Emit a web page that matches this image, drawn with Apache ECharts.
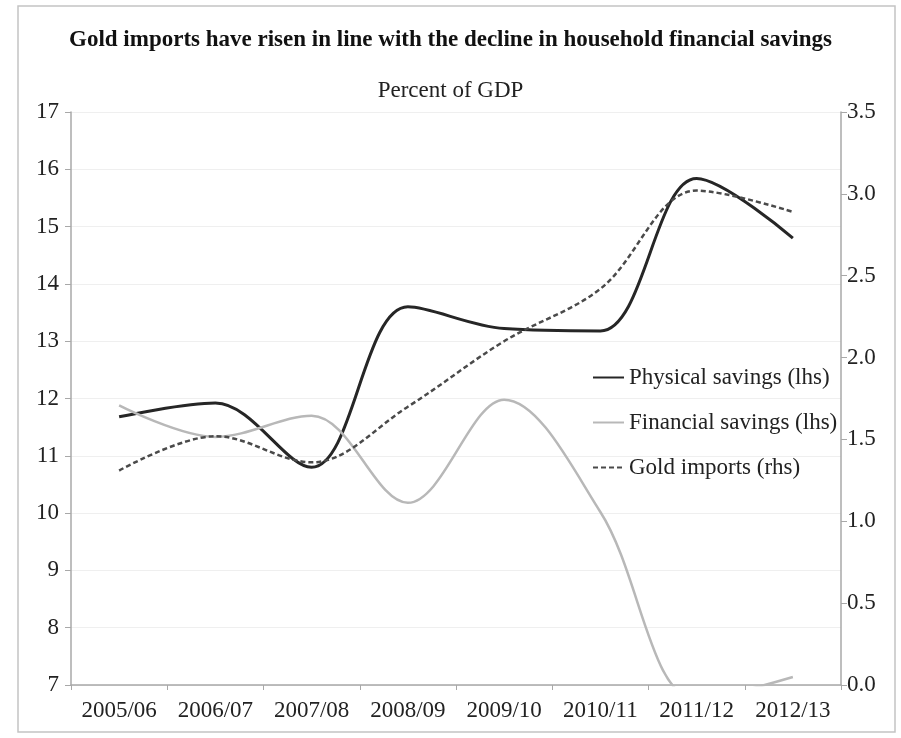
<!DOCTYPE html>
<html>
<head>
<meta charset="utf-8">
<script src="https://cdn.jsdelivr.net/npm/echarts@6/dist/echarts.min.js"></script>
<style>
html,body{margin:0;padding:0;background:#fff;}
#chart{width:901px;height:738px;}
</style>
</head>
<body>
<div id="chart"></div>
<script>
var categories = ['2005/06','2006/07','2007/08','2008/09','2009/10','2010/11','2011/12','2012/13'];
var physicalSavings = [11.68, 11.92, 10.80, 13.60, 13.22, 13.18, 15.84, 14.80];
var financialSavings = [11.88, 11.33, 11.70, 10.18, 11.98, 10.02, 6.75, 7.14];
var goldImports = [1.31, 1.52, 1.36, 1.70, 2.10, 2.42, 3.02, 2.89];
var leftTicks = {min: 7, max: 17, interval: 1};
var rightTicks = {min: 0, max: 3.5, interval: 0.5};

var FONT = '"Liberation Serif", "Times New Roman", serif';
var chart = echarts.init(document.getElementById('chart'), null, {renderer: 'canvas'});
chart.setOption({
  backgroundColor: '#ffffff',
  animation: false,
  textStyle: {fontFamily: FONT},
  graphic: [{
    type: 'rect',
    shape: {x: 18, y: 6, width: 877, height: 726},
    style: {fill: 'none', stroke: '#c4c4c4', lineWidth: 1.5},
    silent: true
  }],
  title: [{
    text: 'Gold imports have risen in line with the decline in household financial savings',
    left: 'center', top: 24,
    textStyle: {fontFamily: FONT, fontSize: 23, fontWeight: 'bold', color: '#111'}
  }, {
    text: 'Percent of GDP',
    left: 'center', top: 74,
    textStyle: {fontFamily: FONT, fontSize: 23, fontWeight: 'normal', color: '#222'}
  }],
  legend: {
    orient: 'vertical',
    left: 592, top: 366, padding: 0,
    itemWidth: 31, itemHeight: 14, itemGap: 22,
    itemStyle: {opacity: 0},
    textStyle: {fontFamily: FONT, fontSize: 23, color: '#222'},
    data: ['Physical savings (lhs)', 'Financial savings (lhs)', 'Gold imports (rhs)']
  },
  grid: {left: 71, right: 60, top: 112, bottom: 53, containLabel: false},
  xAxis: {
    type: 'category',
    data: categories,
    boundaryGap: true,
    axisLine: {lineStyle: {color: '#a8a8a8', width: 1.5}},
    axisTick: {show: true, length: 5, lineStyle: {color: '#a8a8a8'}},
    axisLabel: {fontFamily: FONT, fontSize: 23, color: '#222', margin: 14, interval: 0}
  },
  yAxis: [{
    type: 'value',
    min: leftTicks.min, max: leftTicks.max, interval: leftTicks.interval,
    position: 'left',
    axisLine: {show: true, lineStyle: {color: '#a8a8a8', width: 1.5}},
    axisTick: {show: true, length: 6, lineStyle: {color: '#a8a8a8'}},
    splitLine: {show: true, lineStyle: {color: '#efefef', width: 1}},
    axisLabel: {fontFamily: FONT, fontSize: 23, color: '#222', margin: 12}
  }, {
    type: 'value',
    min: rightTicks.min, max: rightTicks.max, interval: rightTicks.interval,
    position: 'right',
    axisLine: {show: true, lineStyle: {color: '#a8a8a8', width: 1.5}},
    axisTick: {show: true, length: 6, lineStyle: {color: '#a8a8a8'}},
    splitLine: {show: false},
    axisLabel: {fontFamily: FONT, fontSize: 23, color: '#222', margin: 6,
      formatter: function (v) { return v.toFixed(1); }}
  }],
  series: [{
    name: 'Physical savings (lhs)',
    type: 'line', yAxisIndex: 0,
    data: physicalSavings,
    smooth: 0.35, symbol: 'none', clip: true,
    lineStyle: {color: '#262626', width: 3},
    itemStyle: {color: '#262626'}
  }, {
    name: 'Financial savings (lhs)',
    type: 'line', yAxisIndex: 0,
    data: financialSavings,
    smooth: 0.35, symbol: 'none', clip: true,
    lineStyle: {color: '#b8b8b8', width: 2.5},
    itemStyle: {color: '#b8b8b8'}
  }, {
    name: 'Gold imports (rhs)',
    type: 'line', yAxisIndex: 1,
    data: goldImports,
    smooth: 0.35, symbol: 'none', clip: true,
    lineStyle: {color: '#4a4a4a', width: 2.5, type: [5, 3]},
    itemStyle: {color: '#4a4a4a'}
  }]
});
</script>
</body>
</html>
